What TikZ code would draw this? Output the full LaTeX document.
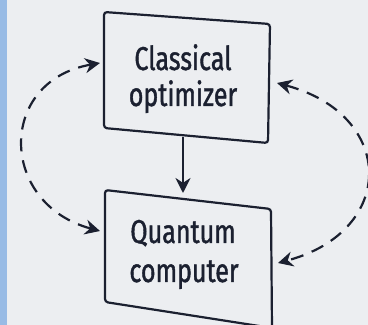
\documentclass[tikz,border=0pt]{standalone}
\usepackage{fontspec}
\newfontfamily\handfont[FakeStretch=0.76, FakeBold=1.2]{Fira Sans}
\usepackage{xcolor}
\definecolor{colBg}{HTML}{ECEEF1}
\definecolor{colStripe}{HTML}{98BBE5}
\definecolor{colInk}{HTML}{1B2030}
\usepackage{tikz}
\usetikzlibrary{arrows.meta}

\tikzset{
  boxline/.style={colInk, line width=2.2pt, rounded corners=3pt, fill=colBg},
  handtext/.style={font=\handfont\fontsize{33}{35}\selectfont, colInk, anchor=base, inner sep=0pt},
  flow/.style={colInk, line width=2.2pt, -{Stealth[length=15pt, width=15pt]}},
  loopflow/.style={flow, {Stealth[length=15pt, width=15pt]}-{Stealth[length=15pt, width=15pt]},
    dash pattern=on 13pt off 9pt}
}

\begin{document}
\begin{tikzpicture}[x=1pt, y=1pt]
        \useasboundingbox (0,0) rectangle (368,325);
        % === Hintergrund ===
        \fill[colBg] (0,0) rectangle (368,325);
        \fill[colStripe] (0,0) rectangle (7,325);

        % === Box oben (Optimierer) ===
        \coordinate (optNW) at (104,313);
        \coordinate (optNE) at (270,301);
        \coordinate (optSE) at (268,182);
        \coordinate (optSW) at (104,197);
        \draw[boxline] (optNW) -- (optNE) -- (optSE) -- (optSW) -- cycle;
        \node[handtext] (optA) at (183,255) {Classical};
        \node[handtext] (optB) at (183,219) {optimizer};

        % === Box unten (Quantencomputer) ===
        \coordinate (qcNW) at (105,135);
        \coordinate (qcNE) at (271,116);
        \coordinate (qcSE) at (272,-3);
        \coordinate (qcSW) at (105,23);
        \draw[boxline] (qcNW) -- (qcNE) -- (qcSE) -- (qcSW) -- cycle;
        \node[handtext] (qcA) at (183,82) {Quantum};
        \node[handtext] (qcB) at (184,43) {computer};

        % Anschlusspunkte
        \coordinate (optS) at (183,188);
        \coordinate (qcN)  at (183,132);
        \coordinate (optW) at (100,262);
        \coordinate (qcW)  at (100,94);
        \coordinate (optE) at (277,242);
        \coordinate (qcE)  at (278,62);

        % Pfeil nach unten
        \draw[flow] (optS) -- (qcN);

        % Schleifen (gestrichelt)
        \draw[loopflow] (optW) to[out=190, in=165, looseness=1.6] (qcW);
        \draw[loopflow] (optE) to[out=-15, in=15, looseness=1.75] (qcE);
    \end{tikzpicture}
\end{document}
